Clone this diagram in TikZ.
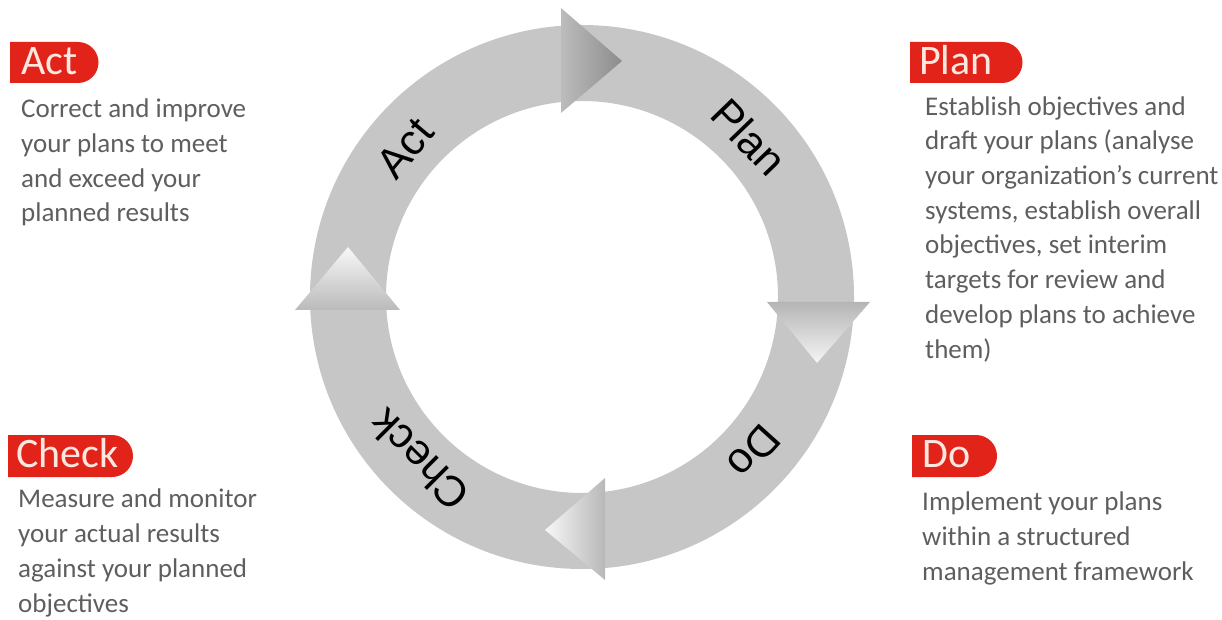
\documentclass[tikz,border=0pt]{standalone}
\usepackage{fontspec}
\setmainfont{Carlito}
\newfontfamily\ringfont{Liberation Sans}
\newfontfamily\bodyfont{Carlito}
\definecolor{ringgray}{HTML}{C6C6C6}
\definecolor{tabred}{HTML}{E2231A}
\definecolor{tabtext}{HTML}{FDE8E0}
\definecolor{bodygray}{HTML}{5E5E5E}
\tikzset{
  ringlabel/.style={font=\ringfont\fontsize{43}{43}\selectfont, text=black, inner sep=0pt},
  tabtxt/.style={font=\bodyfont\fontsize{42}{42}\selectfont, text=tabtext, inner sep=0pt, anchor=base west},
  bodytxt/.style={font=\bodyfont\fontsize{27}{34.7}\selectfont, text=bodygray, inner sep=0pt, anchor=base west, align=left},
  tabfill/.style={fill=tabred}
}
\begin{document}
\begin{tikzpicture}[x=1pt,y=1pt]
\useasboundingbox (0,0) rectangle (1222,619);
% ring
\coordinate (c) at (582,322);
\fill[ringgray, even odd rule] (c) circle[radius=272pt] circle[radius=196pt];
% arrowheads
\shade[left color=ringgray!95!black, right color=black!45] (561,611) -- (561,506) -- (622,558) -- cycle;
\shade[top color=black!29, bottom color=black!4] (767,317) -- (870,317) -- (817,256) -- cycle;
\shade[left color=black!3, right color=black!28] (605,141) -- (605,39) -- (545,89) -- cycle;
\shade[top color=black!3, bottom color=black!27] (295,309) -- (400,309) -- (348,372) -- cycle;
% ring labels
\node[ringlabel, rotate=50] (lact) at (405,471) {Act};
\node[ringlabel, rotate=-46] (lplan) at (749,482) {Plan};
\node[ringlabel, rotate=-132] (ldo) at (754,167) {Do};
\node[ringlabel, rotate=135] (lcheck) at (419,159) {Check};
% tabs
\fill[tabfill] (10,536) -- (78,536) arc[start angle=-90, end angle=90, radius=20.5pt] -- (10,577) -- cycle;
\fill[tabfill] (910,536) -- (1002,536) arc[start angle=-90, end angle=90, radius=20.5pt] -- (910,577) -- cycle;
\fill[tabfill] (8,142) -- (112,142) arc[start angle=-90, end angle=90, radius=21pt] -- (8,184) -- cycle;
\fill[tabfill] (912,142) -- (976,142) arc[start angle=-90, end angle=90, radius=21pt] -- (912,184) -- cycle;
\node[tabtxt] (tact) at (21,544) {Act};
\node[tabtxt] (tplan) at (919,544) {Plan};
\node[tabtxt] (tcheck) at (16,152) {Check};
\node[tabtxt] (tdo) at (922,152) {Do};
% body texts (anchored at the baseline of the last line)
\node[bodytxt] (bact) at (21,397) {Correct and improve\\your plans to meet\\and exceed your\\planned results};
\node[bodytxt] (bplan) at (925,261) {Establish objectives and\\draft your plans (analyse\\your organization’s current\\systems, establish overall\\objectives, set interim\\targets for review and\\develop plans to achieve\\them)};
\node[bodytxt] (bcheck) at (18,7) {Measure and monitor\\your actual results\\against your planned\\objectives};
\node[bodytxt] (bdo) at (922,39) {Implement your plans\\within a structured\\management framework};
\end{tikzpicture}
\end{document}
